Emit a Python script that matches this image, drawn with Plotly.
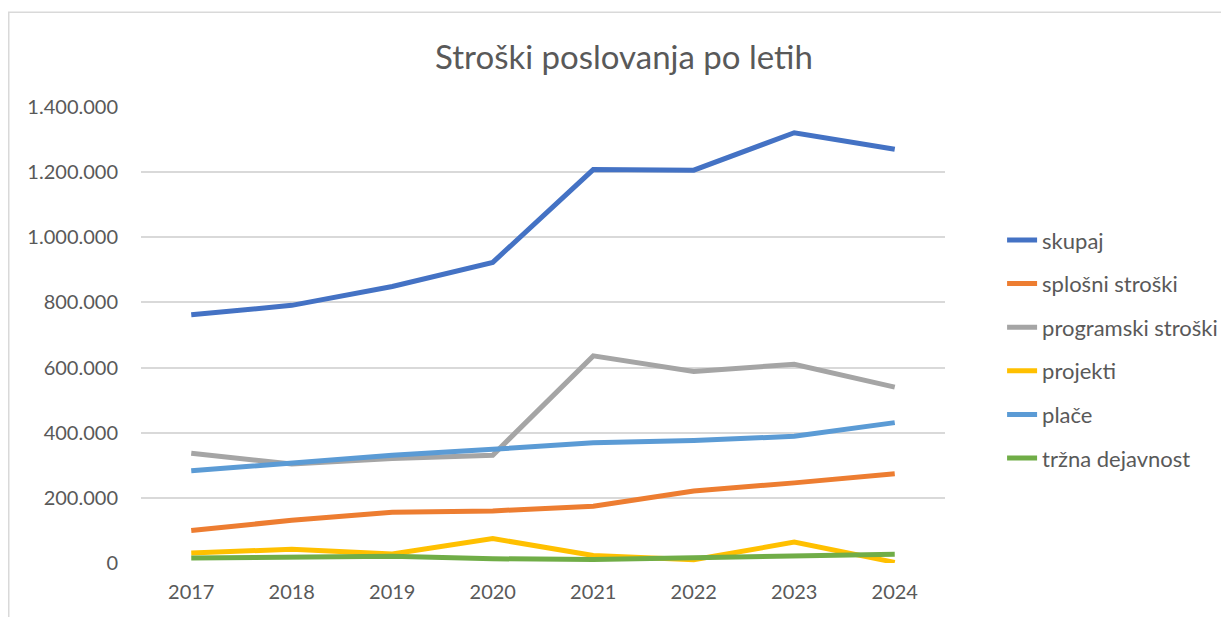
import plotly.graph_objects as go

years = ['2017', '2018', '2019', '2020', '2021', '2022', '2023', '2024']

skupaj = [762000, 791000, 849000, 923000, 1208000, 1206000, 1321000, 1270000]
splosni_stroski = [100000, 131000, 156000, 160000, 174000, 221000, 246000, 274000]
programski_stroski = [337000, 304000, 321000, 331000, 636000, 588000, 610000, 540000]
projekti = [31000, 42000, 28000, 75000, 23000, 10000, 64000, 2000]
place = [283000, 306000, 331000, 349000, 369000, 376000, 389000, 431000]
trzna_dejavnost = [15000, 17000, 21000, 13000, 11000, 16000, 23000, 27000]

series = [
    ('skupaj', skupaj, '#4472C4'),
    ('splošni stroški', splosni_stroski, '#ED7D31'),
    ('programski stroški', programski_stroski, '#A5A5A5'),
    ('projekti', projekti, '#FFC000'),
    ('plače', place, '#5B9BD5'),
    ('tržna dejavnost', trzna_dejavnost, '#70AD47'),
]

FONT = 'Lato'
TXT = '#595959'

fig = go.Figure()
for i, (name, vals, col) in enumerate(series):
    fig.add_trace(go.Scatter(
        x=years, y=vals, name=name, mode='lines',
        line=dict(color=col, width=5),
        legendgroup=f'g{i}',
    ))

# Excel style thin chart-area border (cropped at right and bottom)
fig.add_shape(type='rect', xref='paper', yref='paper',
              x0=-0.1645, x1=2, y0=-0.3, y1=1.208,
              line=dict(color='#D9D9D9', width=1.5), layer='below')

fig.update_layout(
    width=1229, height=617,
    margin=dict(l=133, r=292, t=99, b=62),
    paper_bgcolor='white', plot_bgcolor='white',
    font=dict(family=FONT, color=TXT, size=20),
    title=dict(text='Stroški poslovanja po letih', x=0.5012, xref='container',
               xanchor='center', y=0.9206, yref='container', yanchor='middle',
               font=dict(size=33, color=TXT, family=FONT)),
    legend=dict(x=1.071, xanchor='left', y=0.754, yanchor='top',
                font=dict(size=22, color=TXT, family=FONT),
                tracegroupgap=12, bgcolor='rgba(0,0,0,0)'),
    showlegend=True,
    separators=',.',
)
fig.update_xaxes(range=[-0.5, 7.5], showgrid=False, showline=False, ticks='',
                 zeroline=False, ticklabelstandoff=15)
fig.update_yaxes(range=[0, 1400000], dtick=200000, showgrid=True,
                 gridcolor='#D9D9D9', gridwidth=1.5, zeroline=False,
                 showline=False, ticks='', tickformat=',d',
                 ticklabelstandoff=22)

fig.write_html('out.html')
